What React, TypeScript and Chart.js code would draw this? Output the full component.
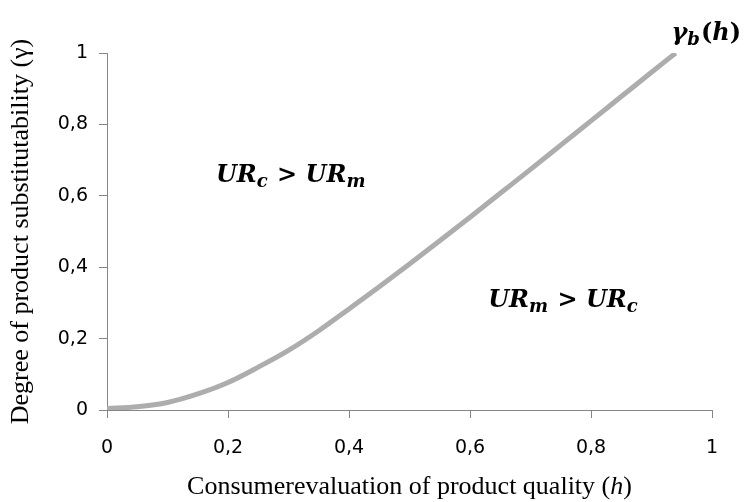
import React, { useEffect, useRef } from "react";
import { Chart, registerables } from "chart.js";

Chart.register(...registerables);

const hValues = [0, 0.05, 0.1, 0.15, 0.2, 0.25, 0.3, 0.35, 0.4, 0.45, 0.5, 0.55, 0.6, 0.65, 0.7, 0.75, 0.8, 0.85, 0.9, 0.94];
const gammaValues = [0.004, 0.009, 0.021, 0.045, 0.077, 0.12, 0.167, 0.222, 0.283, 0.345, 0.409, 0.474, 0.54, 0.607, 0.674, 0.742, 0.81, 0.878, 0.946, 1.0];

const xTitle = ["Consumerevaluation of product quality (", "h", ")"];
const yTitle = "Degree of product substitutability (\u03b3)";

type Piece = { t: string; sub?: boolean; italic?: boolean };
const annotations: { h: number; g: number; pieces: Piece[] }[] = [
  { h: 0.18, g: 0.66, pieces: [{ t: "UR", italic: true }, { t: "c", sub: true, italic: true }, { t: " > " }, { t: "UR", italic: true }, { t: "m", sub: true, italic: true }] },
  { h: 0.63, g: 0.31, pieces: [{ t: "UR", italic: true }, { t: "m", sub: true, italic: true }, { t: " > " }, { t: "UR", italic: true }, { t: "c", sub: true, italic: true }] },
  { h: 0.933, g: 1.06, pieces: [{ t: "\u03b3", italic: true }, { t: "b", sub: true, italic: true }, { t: "(" }, { t: "h", italic: true }, { t: ")" }] },
];

const MAIN = 24;
const SUB = 18;

const textPlugin = {
  id: "textPlugin",
  afterDraw(chart: any) {
    const ctx = chart.ctx;
    const xs = chart.scales.x;
    const ys = chart.scales.y;
    ctx.save();
    ctx.fillStyle = "#000";
    ctx.textBaseline = "alphabetic";
    ctx.textAlign = "left";
    for (const a of annotations) {
      let x = xs.getPixelForValue(a.h);
      const base = ys.getPixelForValue(a.g) + 8;
      for (const p of a.pieces) {
        const size = p.sub ? SUB : MAIN;
        ctx.font = `${p.italic ? "italic " : ""}bold ${size}px "DejaVu Serif"`;
        ctx.fillText(p.t, x, p.sub ? base + 5 : base);
        x += ctx.measureText(p.t).width + (p.sub ? 1 : 0);
      }
    }
    // x title with italic h
    const fonts = ['26px "Liberation Serif"', 'italic 26px "Liberation Serif"', '26px "Liberation Serif"'];
    let total = 0;
    const widths: number[] = [];
    xTitle.forEach((s, i) => {
      ctx.font = fonts[i];
      const w = ctx.measureText(s).width;
      widths.push(w);
      total += w;
    });
    let tx = (chart.chartArea.left + chart.chartArea.right) / 2 - total / 2;
    ctx.textBaseline = "middle";
    xTitle.forEach((s, i) => {
      ctx.font = fonts[i];
      ctx.fillText(s, tx, 487);
      tx += widths[i];
    });
    ctx.restore();
  },
};

const fmt = (v: any) => {
  const n = Number(Number(v).toFixed(1));
  return String(n).replace(".", ",");
};

export default function App() {
  const ref = useRef<HTMLCanvasElement>(null);
  useEffect(() => {
    document.body.style.margin = "0";
    const chart = new Chart(ref.current!, {
      type: "line",
      data: {
        datasets: [
          {
            data: hValues.map((h, i) => ({ x: h, y: gammaValues[i] })),
            borderColor: "#adadad",
            borderWidth: 5,
            pointRadius: 0,
            cubicInterpolationMode: "monotone",
            fill: false,
          },
        ],
      },
      options: {
        animation: false,
        responsive: false,
        layout: { padding: { top: 53, right: 32, left: 0, bottom: 0 } },
        plugins: { legend: { display: false }, tooltip: { enabled: false } },
        scales: {
          x: {
            type: "linear",
            min: 0,
            max: 1,
            afterFit: (s: any) => { s.height = 92; },
            grid: { display: true, drawOnChartArea: false, drawTicks: true, tickLength: 8, color: "#868686" },
            border: { display: true, color: "#868686", width: 1 },
            ticks: { stepSize: 0.2, color: "#000", padding: 19, font: { family: "DejaVu Sans", size: 19 }, callback: fmt },
          },
          y: {
            min: 0,
            max: 1,
            afterFit: (s: any) => { s.width = 107; },
            grid: { display: true, drawOnChartArea: false, drawTicks: true, tickLength: 8, color: "#868686" },
            border: { display: true, color: "#868686", width: 1 },
            ticks: { stepSize: 0.2, color: "#000", padding: 11, font: { family: "DejaVu Sans", size: 19 }, callback: fmt },
            title: { display: true, text: yTitle, color: "#000", font: { family: "Liberation Serif", size: 26 }, padding: { top: 6, bottom: 0 } },
          },
        },
      },
      plugins: [textPlugin],
    } as any);
    return () => chart.destroy();
  }, []);
  return (
    <div style={{ width: 744, height: 502 }}>
      <canvas ref={ref} width={744} height={502} style={{ display: "block" }} />
    </div>
  );
}
